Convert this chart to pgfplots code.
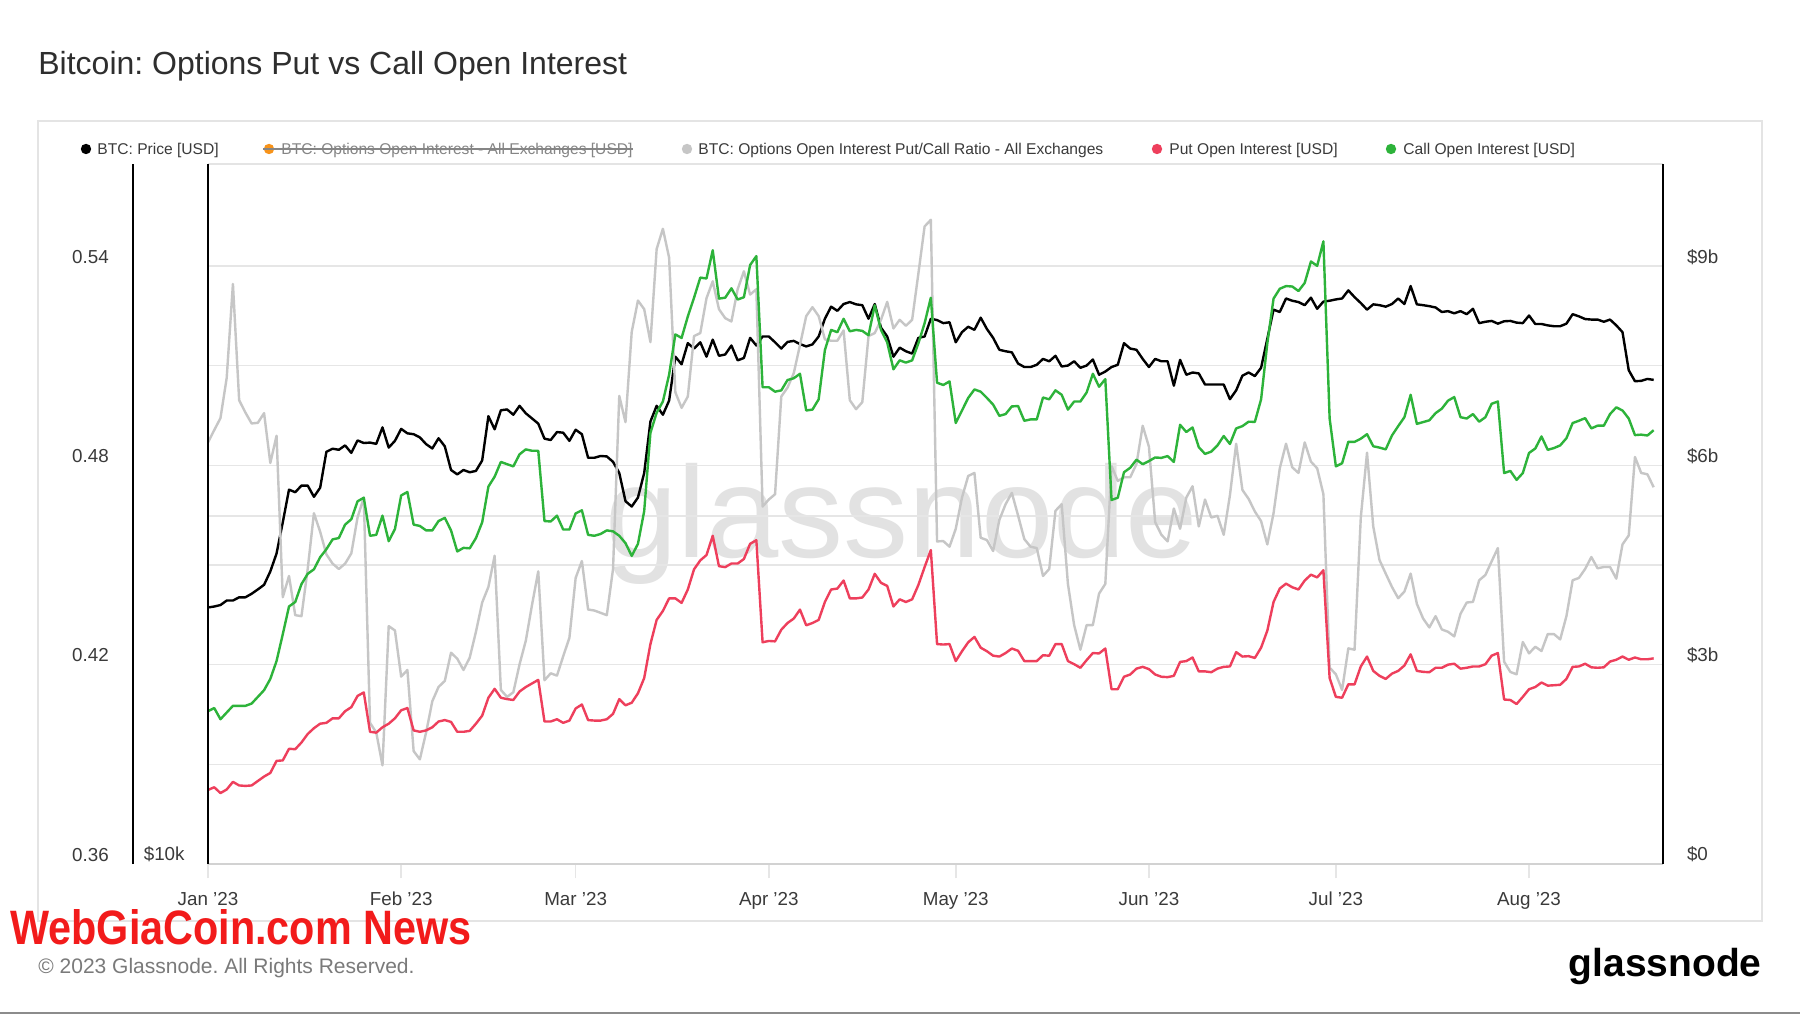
\documentclass[border=0pt]{standalone}
\usepackage{pgfplots}
\usepackage{pgfplotstable}
\pgfplotsset{compat=1.18}
\usepackage{fontspec}
\setmainfont{Liberation Sans}
\definecolor{titlegray}{HTML}{2E2E2E}
\definecolor{labgray}{HTML}{3A3A3A}
\definecolor{gridgray}{HTML}{E6E6E6}
\definecolor{framegray}{HTML}{E4E4E4}
\definecolor{ratiogray}{HTML}{C6C6C6}
\definecolor{putred}{HTML}{EE3F5C}
\definecolor{callgreen}{HTML}{2DB33A}
\definecolor{oiorange}{HTML}{F7931A}
\definecolor{wmgray}{HTML}{E2E2E2}
\definecolor{footgray}{HTML}{7A7A7A}
\definecolor{strikegray}{HTML}{858585}
\definecolor{newsred}{HTML}{F21B1B}

\pgfplotstableread{
d P R U C
0 16670 0.4869 1.115 2.301
1 16700 0.4906 1.156 2.349
2 16750 0.4942 1.068 2.180
3 16900 0.5063 1.122 2.281
4 16900 0.5346 1.237 2.382
5 17010 0.4996 1.183 2.382
6 17010 0.4959 1.176 2.382
7 17130 0.4926 1.183 2.416
8 17280 0.4928 1.250 2.517
9 17440 0.4957 1.317 2.618
10 17910 0.4807 1.371 2.787
11 18560 0.4889 1.553 3.056
12 19750 0.4403 1.560 3.460
13 21080 0.4467 1.735 3.878
14 20970 0.4349 1.729 3.946
15 21250 0.4346 1.830 4.215
16 21250 0.4488 1.958 4.370
17 20780 0.4656 2.045 4.438
18 21160 0.4600 2.113 4.620
19 22730 0.4532 2.126 4.741
20 22870 0.4504 2.194 4.889
21 22820 0.4488 2.194 4.909
22 23020 0.4504 2.301 5.111
23 22680 0.4535 2.362 5.192
24 23250 0.4643 2.531 5.462
25 23130 0.4703 2.584 5.516
26 23150 0.4025 1.991 4.943
27 23090 0.3996 1.978 4.957
28 23860 0.3897 2.059 5.246
29 22920 0.4316 2.113 4.862
30 23230 0.4303 2.194 5.044
31 23790 0.4164 2.315 5.550
32 23580 0.4184 2.349 5.603
33 23540 0.3940 2.012 5.111
34 23390 0.3915 1.991 5.091
35 23080 0.3996 2.012 5.024
36 22880 0.4090 2.059 5.024
37 23350 0.4133 2.146 5.165
38 22980 0.4151 2.167 5.213
39 21920 0.4236 2.140 5.024
40 21730 0.4218 1.991 4.707
41 21920 0.4184 1.991 4.761
42 21820 0.4221 2.005 4.754
43 21880 0.4299 2.113 4.909
44 22340 0.4387 2.234 5.145
45 24400 0.4434 2.504 5.684
46 23770 0.4528 2.638 5.833
47 24690 0.4124 2.504 6.055
48 24730 0.4103 2.483 6.021
49 24470 0.4117 2.470 5.988
50 24910 0.4201 2.598 6.170
51 24540 0.4272 2.665 6.244
52 24290 0.4380 2.719 6.223
53 24040 0.4481 2.773 6.223
54 23330 0.4153 2.146 5.165
55 23270 0.4174 2.146 5.158
56 23640 0.4167 2.180 5.246
57 23610 0.4225 2.126 5.037
58 23230 0.4281 2.160 5.037
59 23750 0.4461 2.342 5.280
60 23540 0.4512 2.402 5.327
61 22460 0.4366 2.167 4.957
62 22460 0.4363 2.160 4.943
63 22540 0.4356 2.160 4.970
64 22520 0.4349 2.180 5.024
65 22280 0.4488 2.261 5.010
66 21790 0.5009 2.483 4.943
67 20600 0.4930 2.390 4.832
68 20380 0.5202 2.429 4.640
69 20750 0.5296 2.571 4.822
70 21790 0.5270 2.800 5.314
71 24140 0.5171 3.312 6.493
72 24910 0.5451 3.676 6.796
73 24470 0.5512 3.811 6.965
74 25170 0.5425 4.000 7.369
75 27470 0.5020 4.000 7.976
76 27060 0.4973 3.932 7.922
77 28220 0.5007 4.134 8.245
78 27920 0.5189 4.438 8.528
79 28270 0.5198 4.572 8.831
80 27470 0.5303 4.653 8.818
81 28420 0.5354 4.943 9.243
82 27520 0.5270 4.485 8.515
83 27590 0.5243 4.471 8.528
84 28090 0.5233 4.525 8.670
85 27270 0.5330 4.525 8.501
86 27400 0.5384 4.593 8.535
87 28520 0.5314 4.822 9.020
88 28090 0.5330 4.876 9.155
89 28600 0.4676 3.339 7.180
90 28600 0.4697 3.359 7.180
91 28270 0.4713 3.353 7.113
92 27920 0.5007 3.528 7.133
93 28290 0.5034 3.629 7.288
94 28350 0.5077 3.696 7.315
95 28170 0.5162 3.831 7.383
96 28040 0.5249 3.595 6.830
97 28150 0.5276 3.629 6.843
98 28600 0.5249 3.676 6.998
99 29630 0.5179 3.946 7.740
100 30350 0.5175 4.134 8.043
101 30100 0.5175 4.148 8.009
102 30510 0.5206 4.269 8.211
103 30630 0.4996 4.000 8.022
104 30490 0.4969 4.000 8.043
105 30440 0.4990 4.013 8.029
106 29630 0.5189 4.134 7.962
107 30510 0.5198 4.370 8.414
108 29110 0.5238 4.235 8.043
109 28600 0.5292 4.188 7.854
110 27470 0.5212 3.878 7.450
111 27970 0.5238 3.986 7.585
112 27770 0.5220 3.946 7.551
113 27640 0.5238 3.986 7.585
114 28520 0.5377 4.202 7.841
115 28600 0.5519 4.471 8.144
116 29630 0.5539 4.727 8.528
117 29550 0.4571 3.312 7.248
118 29370 0.4572 3.305 7.214
119 29420 0.4555 3.312 7.268
120 28270 0.4609 3.056 6.641
121 28850 0.4703 3.204 6.830
122 29160 0.4768 3.339 7.019
123 28980 0.4777 3.420 7.147
124 29690 0.4582 3.258 7.113
125 29030 0.4575 3.204 7.019
126 28520 0.4542 3.137 6.918
127 27850 0.4636 3.124 6.749
128 27770 0.4683 3.177 6.776
129 27710 0.4717 3.245 6.891
130 27100 0.4649 3.211 6.897
131 26910 0.4578 3.056 6.675
132 26910 0.4555 3.056 6.695
133 27030 0.4551 3.056 6.695
134 27350 0.4467 3.144 7.025
135 27220 0.4488 3.137 6.998
136 27520 0.4663 3.312 7.133
137 26940 0.4683 3.312 7.066
138 26990 0.4443 3.056 6.843
139 27220 0.4319 3.009 6.965
140 26870 0.4245 2.955 6.965
141 26990 0.4319 3.070 7.100
142 27320 0.4319 3.177 7.383
143 26500 0.4414 3.171 7.187
144 26670 0.4443 3.245 7.302
145 26910 0.4798 2.632 5.482
146 27030 0.4753 2.632 5.516
147 28220 0.4764 2.820 5.900
148 27920 0.4764 2.854 5.967
149 27850 0.4804 2.942 6.089
150 27350 0.4919 2.969 6.021
151 26910 0.4856 2.935 6.068
152 27350 0.4629 2.854 6.122
153 27220 0.4591 2.820 6.116
154 27220 0.4571 2.814 6.143
155 25930 0.4670 2.834 6.055
156 27300 0.4609 3.043 6.614
157 26500 0.4703 3.056 6.506
158 26620 0.4737 3.110 6.574
159 26570 0.4616 2.901 6.277
160 25990 0.4697 2.901 6.176
161 25990 0.4643 2.888 6.210
162 25990 0.4648 2.942 6.304
163 25990 0.4591 2.969 6.446
164 25240 0.4710 2.975 6.325
165 25690 0.4865 3.191 6.560
166 26450 0.4726 3.124 6.594
167 26620 0.4699 3.130 6.661
168 26430 0.4661 3.103 6.658
169 26870 0.4632 3.258 6.998
170 28470 0.4562 3.514 7.841
171 30170 0.4656 3.946 8.515
172 30030 0.4791 4.148 8.663
173 30850 0.4865 4.222 8.703
174 30710 0.4794 4.168 8.697
175 30630 0.4777 4.134 8.629
176 30440 0.4869 4.269 8.751
177 30900 0.4811 4.357 9.074
178 30220 0.4791 4.316 9.007
179 30660 0.4713 4.424 9.377
180 30710 0.4191 2.800 6.709
181 30790 0.4171 2.517 5.988
182 30850 0.4124 2.504 6.035
183 31350 0.4249 2.706 6.358
184 30930 0.4245 2.706 6.358
185 30570 0.4643 2.975 6.405
186 30170 0.4838 3.124 6.473
187 30490 0.4616 2.908 6.291
188 30440 0.4515 2.834 6.271
189 30350 0.4474 2.787 6.244
190 30510 0.4434 2.867 6.453
191 30850 0.4400 2.908 6.594
192 30510 0.4420 2.989 6.729
193 31620 0.4474 3.157 7.066
194 30490 0.4383 2.908 6.628
195 30440 0.4339 2.894 6.655
196 30380 0.4312 2.888 6.682
197 30300 0.4346 2.955 6.790
198 30030 0.4306 2.955 6.857
199 30080 0.4299 3.002 6.978
200 29950 0.4285 3.016 7.032
201 30080 0.4353 2.942 6.729
202 29900 0.4387 2.955 6.709
203 30220 0.4389 2.975 6.776
204 29370 0.4454 2.975 6.661
205 29450 0.4470 3.009 6.729
206 29500 0.4511 3.137 6.931
207 29340 0.4551 3.177 6.965
208 29480 0.4209 2.477 5.887
209 29500 0.4178 2.470 5.920
210 29400 0.4171 2.409 5.785
211 29370 0.4268 2.517 5.887
212 29820 0.4234 2.632 6.190
213 29320 0.4254 2.665 6.257
214 29320 0.4241 2.733 6.439
215 29240 0.4292 2.686 6.237
216 29190 0.4292 2.692 6.264
217 29190 0.4276 2.699 6.304
218 29340 0.4346 2.787 6.412
219 29900 0.4454 2.969 6.641
220 29770 0.4461 2.975 6.675
221 29610 0.4488 3.016 6.715
222 29580 0.4524 2.962 6.560
223 29580 0.4490 2.955 6.601
224 29450 0.4494 2.962 6.601
225 29580 0.4494 3.049 6.776
226 29240 0.4459 3.076 6.877
227 28850 0.4562 3.124 6.830
228 26740 0.4589 3.076 6.709
229 26160 0.4825 3.110 6.459
230 26180 0.4777 3.083 6.466
231 26280 0.4773 3.083 6.453
232 26230 0.4734 3.097 6.533
}\chartdata

\pgfplotsset{
  base/.style={
    at={(O)}, anchor=south west, scale only axis,
    width=727.5pt, height=350pt,
    xmin=0, xmax=233.5,
    axis line style={draw=none},
    /pgf/number format/assume math mode=true,
    ticklabel style={font=\fontsize{9.4}{10}\selectfont, text=labgray},
    y tick style={draw=none},
  },
  series/.style={line width=1.2pt, line join=round, mark=none},
}

\begin{document}
\frenchspacing
\begin{tikzpicture}[x=0.5pt, y=0.5pt]
\useasboundingbox (0,0) rectangle (1800,1013);
\fill[white] (0,0) rectangle (1800,1013);
\coordinate (O) at (208,149);
\draw[framegray, line width=1pt] (38,92) rectangle (1762,892);
\draw[gray!90, line width=1pt] (0,0.5) -- (1800,0.5);

% title
\node[anchor=base west, inner sep=0pt, text=titlegray, font=\fontsize{16}{19}\selectfont] at (38,938) {Bitcoin: Options Put vs Call Open Interest};

% legend
\begin{scope}[font=\fontsize{7.8}{9}\selectfont]
\fill[black] (86,864) circle[radius=2.6pt];
\node[anchor=base west, inner sep=0pt, text=labgray] at (97,858.4) {BTC: Price [USD]};
\fill[oiorange] (269,864) circle[radius=2.6pt];
\node[anchor=base west, inner sep=0pt, text=strikegray] (oi) at (281,858.4) {BTC: Options Open Interest - All Exchanges [USD]};
\draw[strikegray, line width=0.55pt] (263,864) -- (oi.east |- 0,864);
\fill[ratiogray] (687,864) circle[radius=2.6pt];
\node[anchor=base west, inner sep=0pt, text=labgray] at (698,858.4) {BTC: Options Open Interest Put/Call Ratio - All Exchanges};
\fill[putred] (1157,864) circle[radius=2.6pt];
\node[anchor=base west, inner sep=0pt, text=labgray] at (1169,858.4) {Put Open Interest [USD]};
\fill[callgreen] (1391,864) circle[radius=2.6pt];
\node[anchor=base west, inner sep=0pt, text=labgray] at (1403,858.4) {Call Open Interest [USD]};
\end{scope}

% watermark
\node[anchor=base west, inner sep=0pt, text=wmgray, font=\fontsize{65}{70}\selectfont] at (605,455) {glassnode};

% grid, ratio labels, x ticks
\begin{axis}[base,
  ymin=0.36, ymax=0.5707,
  ytick={0.36,0.42,0.48,0.54}, yticklabels={0.36,0.42,0.48,0.54},
  minor ytick={0.39,0.45,0.51},
  ymajorgrids, yminorgrids,
  major grid style={gridgray, line width=0.75pt},
  minor grid style={gridgray, line width=0.75pt},
  ytick pos=left,
  yticklabel style={anchor=east, inner sep=0pt, xshift=-42.4pt, yshift=4.7pt},
  xtick={0,31,59,90,120,151,181,212},
  xticklabels={Jan '23,Feb '23,Mar '23,Apr '23,May '23,Jun '23,Jul '23,Aug '23},
  xtick pos=lower, tick align=outside, major tick length=7pt,
  x tick style={gridgray, line width=0.75pt},
  xticklabel style={anchor=base, inner sep=0pt, yshift=-13.5pt},
]
\addplot[draw=none, forget plot] coordinates {(0,0.40)};
\end{axis}

% price (log)
\begin{axis}[base,
  ymode=log, ymin=10000, ymax=40330,
  xtick=\empty,
  ytick={10000,20000}, yticklabels={\$10k,{}},
  ymajorgrids, major grid style={gridgray, line width=0.75pt},
  ytick pos=left,
  yticklabel style={anchor=east, inner sep=0pt, xshift=-11.5pt, yshift=4.7pt},
]
\addplot[series, black] table[x=d, y=P] {\chartdata};
\end{axis}

% ratio
\begin{axis}[base,
  ymin=0.36, ymax=0.5707, xtick=\empty, ytick=\empty,
]
\addplot[series, ratiogray] table[x=d, y=R] {\chartdata};
\end{axis}

% put / call open interest
\begin{axis}[base,
  ymin=0, ymax=10.542, xtick=\empty,
  ytick={0,3,6,9}, yticklabels={\$0,\$3b,\$6b,\$9b},
  ytick pos=right, yticklabel pos=right,
  yticklabel style={anchor=west, inner sep=0pt, xshift=11.8pt, yshift=4.7pt},
]
\addplot[series, putred] table[x=d, y=U] {\chartdata};
\addplot[series, callgreen] table[x=d, y=C] {\chartdata};
\end{axis}

% plot frame
\draw[framegray, line width=0.9pt] (208,849) -- (1663,849);
\draw[gridgray!80!gray, line width=0.9pt] (208,149) -- (1663,149);
\draw[black, line width=0.9pt] (133,149) -- (133,849);
\draw[black, line width=0.9pt] (208,149) -- (208,849);
\draw[black, line width=0.9pt] (1663,149) -- (1663,849);

% footer
\node[anchor=base west, inner sep=0pt, text=footgray, font=\fontsize{10.5}{12}\selectfont] at (38,40) {© 2023 Glassnode. All Rights Reserved.};
\node[anchor=base east, inner sep=0pt, text=black, font=\bfseries\fontsize{19.5}{22}\selectfont] at (1762,36.5) {glassnode};
\node[anchor=base west, inner sep=0pt, text=newsred] at (10,69) {\resizebox{230.5pt}{17.5pt}{\bfseries WebGiaCoin.com News}};
\end{tikzpicture}
\end{document}
